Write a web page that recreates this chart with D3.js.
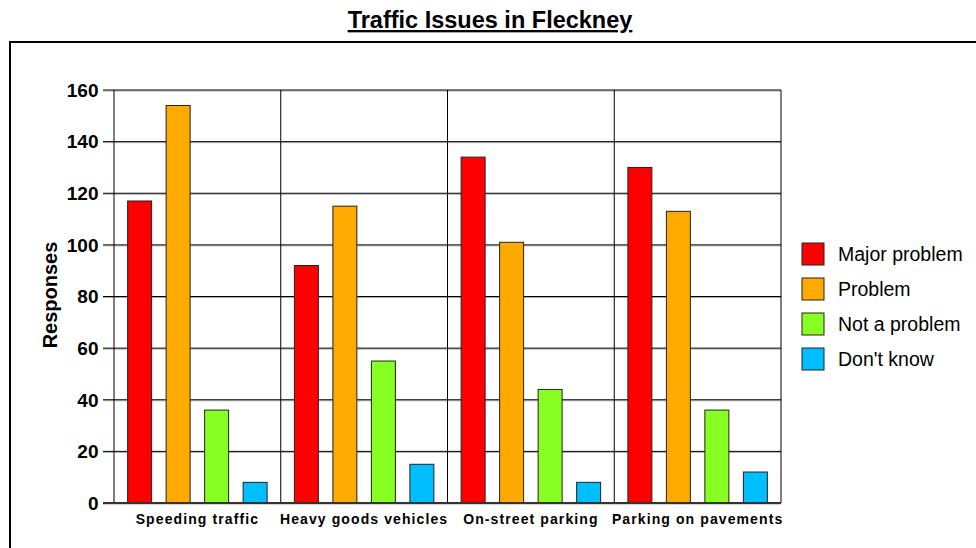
<!DOCTYPE html>
<meta charset="utf-8">
<script src="https://d3js.org/d3.v7.min.js"></script>
<style>
body { margin: 0; background: #fff; }
text { font-family: "Liberation Sans", Arial, sans-serif; }
</style>
<div id="chart"></div>
<script>
// data
var categories = ["Speeding traffic", "Heavy goods vehicles", "On-street parking", "Parking on pavements"];
var seriesNames = ["Major problem", "Problem", "Not a problem", "Don't know"];
var majorProblem = [117, 92, 134, 130];
var problem = [154, 115, 101, 113];
var notAProblem = [36, 55, 44, 36];
var dontKnow = [8, 15, 8, 12];
var yTicks = [0, 20, 40, 60, 80, 100, 120, 140, 160];
var colors = ["#ff0000", "#ffaa00", "#88ff22", "#00bfff"];

var seriesValues = [majorProblem, problem, notAProblem, dontKnow];

var W = 976, H = 548;
var plot = {left: 114, right: 781, top: 90, bottom: 503};

var svg = d3.select("#chart").append("svg")
  .attr("width", W).attr("height", H);

// title
svg.append("text")
  .attr("x", 490).attr("y", 28)
  .attr("text-anchor", "middle")
  .style("font-size", "23.5px").style("font-weight", "bold")
  .style("text-decoration", "underline")
  .text("Traffic Issues in Fleckney");

// outer frame
svg.append("rect")
  .attr("x", 10).attr("y", 42)
  .attr("width", 980).attr("height", 520)
  .attr("fill", "none").attr("stroke", "#000").attr("stroke-width", 2);

var x0 = d3.scaleBand().domain(categories).range([plot.left, plot.right]).padding(0);
var x1 = d3.scaleBand().domain(seriesNames).range([0, x0.bandwidth()])
  .paddingInner(0.377).paddingOuter(0.354);
var y = d3.scaleLinear().domain([0, 160]).range([plot.bottom, plot.top]);

// horizontal grid lines with a light shadow
var grid = svg.append("g");
grid.selectAll("line.shadow").data(yTicks).enter().append("line")
  .attr("x1", plot.left - 11).attr("x2", plot.right)
  .attr("y1", function(d){ return y(d) + 1; }).attr("y2", function(d){ return y(d) + 1; })
  .attr("stroke", "#aaa").attr("stroke-width", 1);
grid.selectAll("line.main").data(yTicks).enter().append("line")
  .attr("x1", plot.left - 11).attr("x2", plot.right)
  .attr("y1", function(d){ return y(d); }).attr("y2", function(d){ return y(d); })
  .attr("stroke", "#000").attr("stroke-width", 1);

// vertical lines at category boundaries + plot edges
var vx = categories.map(function(c){ return x0(c); }).concat([plot.right]);
grid.selectAll("line.v").data(vx).enter().append("line")
  .attr("x1", function(d){ return d; }).attr("x2", function(d){ return d; })
  .attr("y1", plot.top).attr("y2", plot.bottom)
  .attr("stroke", "#000").attr("stroke-width", 1);

// y tick labels
svg.append("g").selectAll("text").data(yTicks).enter().append("text")
  .attr("x", 98.5).attr("y", function(d){ return y(d); })
  .attr("dy", "0.36em")
  .attr("text-anchor", "end")
  .style("font-size", "19px").style("font-weight", "bold")
  .text(function(d){ return d; });

// y axis title
svg.append("text")
  .attr("transform", "translate(57," + 295 + ") rotate(-90)")
  .attr("text-anchor", "middle")
  .style("font-size", "20px").style("font-weight", "bold")
  .text("Responses");

// bars
var groups = svg.append("g").selectAll("g").data(categories).enter().append("g")
  .attr("transform", function(c){ return "translate(" + x0(c) + ",0)"; });
groups.selectAll("rect")
  .data(function(c, i){ return seriesNames.map(function(s, j){ return {s: s, v: seriesValues[j][i], j: j}; }); })
  .enter().append("rect")
  .attr("x", function(d){ return x1(d.s); })
  .attr("width", x1.bandwidth())
  .attr("y", function(d){ return y(d.v); })
  .attr("height", function(d){ return plot.bottom - y(d.v); })
  .attr("fill", function(d){ return colors[d.j]; })
  .attr("stroke", "#222").attr("stroke-width", 1);

// baseline
svg.append("line")
  .attr("x1", plot.left - 11).attr("x2", plot.right)
  .attr("y1", plot.bottom).attr("y2", plot.bottom)
  .attr("stroke", "#333").attr("stroke-width", 2);

// category labels
svg.append("g").selectAll("text").data(categories).enter().append("text")
  .attr("x", function(c){ return x0(c) + x0.bandwidth() / 2; })
  .attr("y", 524)
  .attr("text-anchor", "middle")
  .style("font-size", "14px").style("font-weight", "bold")
  .style("letter-spacing", "1.1px")
  .text(function(c){ return c; });

// legend
var legend = svg.append("g").selectAll("g").data(seriesNames).enter().append("g")
  .attr("transform", function(d, i){ return "translate(802," + (243 + i * 35) + ")"; });
legend.append("rect")
  .attr("width", 22).attr("height", 22)
  .attr("fill", function(d, i){ return colors[i]; })
  .attr("stroke", "#222").attr("stroke-width", 1);
legend.append("text")
  .attr("x", 36).attr("y", 11).attr("dy", "0.36em")
  .style("font-size", "19.5px")
  .text(function(d){ return d; });
</script>
